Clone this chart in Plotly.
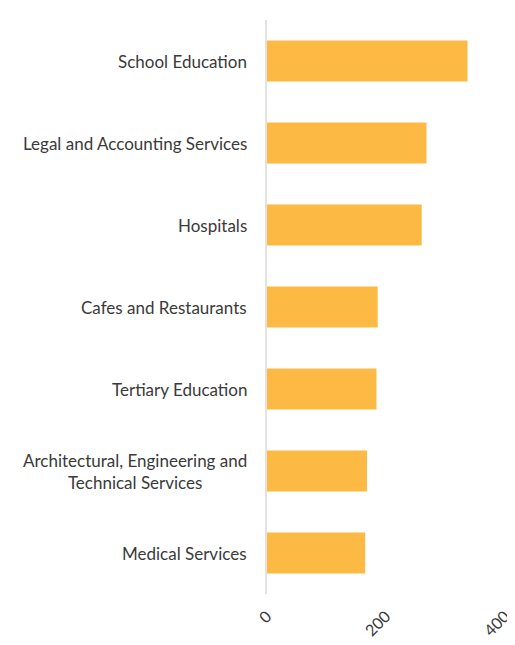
import plotly.graph_objects as go

categories = [
    "School Education",
    "Legal and Accounting Services",
    "Hospitals",
    "Cafes and Restaurants",
    "Tertiary Education",
    "Architectural, Engineering and<br>Technical Services",
    "Medical Services",
]
values = [337, 268, 260, 186, 184, 168, 165]
x_ticks = [0, 200, 400]

BAR_COLOR = "#FCB944"
TEXT_COLOR = "#3a3a3a"
FONT = "Lato, sans-serif"

fig = go.Figure(
    go.Bar(
        x=values,
        y=categories,
        orientation="h",
        marker=dict(color=BAR_COLOR, line=dict(width=0)),
        width=0.5,
    )
)

# category labels as annotations so wrapped lines stay centred
for cat in categories:
    fig.add_annotation(
        x=0, xref="paper", y=cat, yref="y",
        text=cat, showarrow=False,
        xanchor="right", xshift=-18, align="center",
        font=dict(family=FONT, size=17, color=TEXT_COLOR),
    )

# page body adds an 8px margin, so the figure is sized 8px smaller
fig.update_layout(
    width=507,
    height=637,
    margin=dict(l=259, r=10, t=12, b=51, autoexpand=False),
    plot_bgcolor="white",
    paper_bgcolor="white",
    showlegend=False,
    font=dict(family=FONT, color=TEXT_COLOR),
)

fig.update_xaxes(
    range=[0, 400],
    tickvals=x_ticks,
    tickangle=-45,
    showgrid=False,
    zeroline=False,
    automargin=False,
    ticklabelstandoff=9,
    ticklabeloverflow="allow",
    tickfont=dict(family=FONT, size=16, color=TEXT_COLOR),
)
fig.update_yaxes(
    categoryorder="array",
    categoryarray=categories,
    autorange="reversed",
    showticklabels=False,
    showgrid=False,
    zeroline=False,
    automargin=False,
    showline=True,
    linecolor="#e2e2e2",
    linewidth=2,
)

fig.write_html("out.html")
